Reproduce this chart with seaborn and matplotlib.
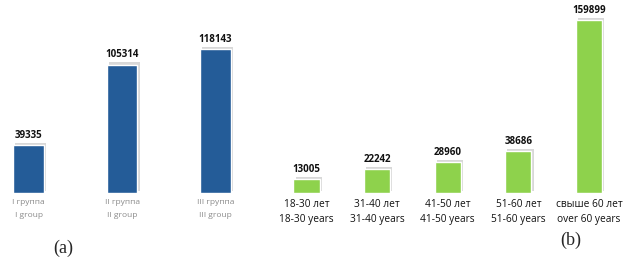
import matplotlib
matplotlib.use("Agg")
import matplotlib.pyplot as plt
import matplotlib.patheffects as pe
import seaborn as sns

# Data
groups = ["I группа\nI group", "II группа\nII group", "III группа\nIII group"]
group_values = [39335, 105314, 118143]

ages = ["18-30 лет\n18-30 years", "31-40 лет\n31-40 years", "41-50 лет\n41-50 years",
        "51-60 лет\n51-60 years", "свыше 60 лет\nover 60 years"]
age_values = [13005, 22242, 28960, 38686, 159899]

sns.set_style("white")
plt.rcParams["font.family"] = ["Open Sans", "DejaVu Sans"]

fig = plt.figure(figsize=(6.3, 2.61), dpi=100)
W, H = 630, 261
base = 193

ax1 = fig.add_axes([0, (H - base) / H, 260 / W, base / H])
ax2 = fig.add_axes([270 / W, (H - base) / H, 360 / W, base / H])

shadow = [pe.SimplePatchShadow(offset=(1.5, 1.5), shadow_rgbFace="#cfcfcf", alpha=0.8), pe.Normal()]

sns.barplot(x=groups, y=group_values, color="#245c98", saturation=1, width=0.33, ax=ax1)
ax1.set_xlim(-0.305, 2.476)
ax1.set_ylim(0, 158200)

sns.barplot(x=ages, y=age_values, color="#8ed24c", saturation=1, width=0.37, ax=ax2)
ax2.set_xlim(-0.517, 4.58)
ax2.set_ylim(0, 178400)

for ax in (ax1, ax2):
    for p in ax.patches:
        p.set_path_effects(shadow)
    ax.bar_label(ax.containers[0], padding=3, fontsize=7, fontweight="bold", color="#111111")
    sns.despine(ax=ax, left=True, bottom=True)
    ax.set_yticks([])
    ax.set_xlabel("")
    ax.set_ylabel("")
    ax.patch.set_alpha(0)

ax1.tick_params(axis="x", length=0, pad=4, labelsize=6, labelcolor="#8a8a8a")
for t in ax1.get_xticklabels():
    t.set_linespacing(2.2)
ax2.tick_params(axis="x", length=0, pad=4, labelsize=7.3, labelcolor="#111111")
for t in ax2.get_xticklabels():
    t.set_linespacing(1.5)

fig.text(63 / W, 1 - 248 / H, "(a)", family="Liberation Serif", fontsize=13, ha="center", va="center")
fig.text(571 / W, 1 - 240 / H, "(b)", family="Liberation Serif", fontsize=13, ha="center", va="center")

fig.savefig("out.png", dpi=100)
